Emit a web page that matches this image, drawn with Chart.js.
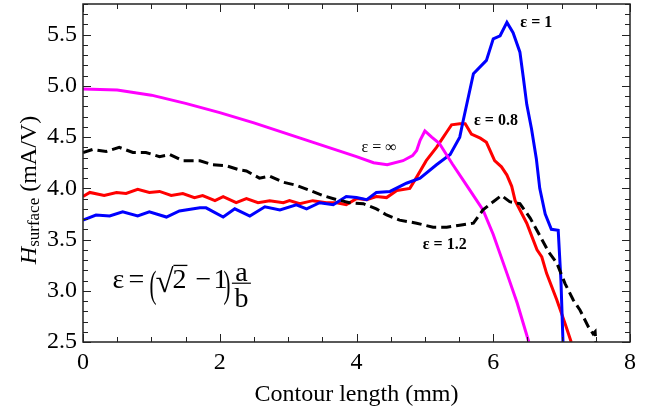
<!DOCTYPE html>
<html>
<head>
<meta charset="utf-8">
<script src="https://cdn.jsdelivr.net/npm/chart.js@4.4.1/dist/chart.umd.min.js"></script>
<style>
  html, body { margin: 0; padding: 0; background: #fff; }
  #wrap { width: 646px; height: 410px; }
</style>
</head>
<body>
<div id="wrap"><canvas id="chart" width="646" height="410"></canvas></div>
<script>
// axis ticks
const xTicks = [0, 2, 4, 6, 8];
const yTicks = [2.5, 3.0, 3.5, 4.0, 4.5, 5.0, 5.5];
const xTitle = "Contour length (mm)";

// ε = 1 (blue)
const blueX = [0, 0.19, 0.39, 0.58, 0.80, 0.97, 1.22, 1.41, 1.71, 1.80, 2.05, 2.22, 2.44, 2.66, 2.88, 3.12, 3.27, 3.46, 3.66, 3.85, 4.0, 4.15, 4.29, 4.49, 4.73, 4.93, 5.17, 5.37, 5.51, 5.56, 5.71, 5.90, 6.0, 6.10, 6.20, 6.29, 6.39, 6.44, 6.49, 6.56, 6.63, 6.68, 6.76, 6.85, 6.95, 6.99, 7.02];
const blueY = [3.69, 3.74, 3.73, 3.77, 3.73, 3.77, 3.72, 3.78, 3.81, 3.81, 3.72, 3.80, 3.73, 3.82, 3.79, 3.84, 3.80, 3.86, 3.84, 3.92, 3.91, 3.89, 3.96, 3.97, 4.05, 4.10, 4.23, 4.33, 4.50, 4.66, 5.12, 5.25, 5.46, 5.49, 5.62, 5.52, 5.33, 5.08, 4.82, 4.58, 4.29, 4.00, 3.75, 3.60, 3.59, 3.10, 2.5];

// ε = 0.8 (red)
const redX = [0, 0.10, 0.31, 0.49, 0.63, 0.80, 0.97, 1.12, 1.29, 1.46, 1.63, 1.75, 1.93, 2.05, 2.24, 2.39, 2.56, 2.73, 2.93, 3.02, 3.17, 3.36, 3.56, 3.71, 3.85, 4.0, 4.15, 4.29, 4.44, 4.59, 4.78, 4.88, 5.02, 5.17, 5.27, 5.32, 5.39, 5.51, 5.59, 5.68, 5.81, 5.90, 6.02, 6.12, 6.20, 6.27, 6.32, 6.49, 6.64, 6.71, 6.78, 6.93, 7.05, 7.14];
const redY = [3.92, 3.96, 3.93, 3.96, 3.95, 3.99, 3.96, 3.97, 3.93, 3.95, 3.91, 3.93, 3.88, 3.92, 3.86, 3.90, 3.86, 3.88, 3.86, 3.88, 3.85, 3.88, 3.86, 3.86, 3.84, 3.90, 3.89, 3.92, 3.91, 3.98, 4.00, 4.11, 4.27, 4.40, 4.50, 4.55, 4.62, 4.63, 4.63, 4.53, 4.49, 4.45, 4.27, 4.21, 4.13, 4.02, 3.88, 3.66, 3.40, 3.33, 3.17, 2.91, 2.68, 2.5];

// ε = 1.2 (black dashed)
const blackX = [0, 0.14, 0.34, 0.53, 0.73, 0.92, 1.12, 1.27, 1.46, 1.71, 1.90, 2.10, 2.29, 2.39, 2.58, 2.73, 2.93, 3.12, 3.32, 3.51, 3.71, 3.90, 4.10, 4.29, 4.44, 4.63, 4.88, 5.12, 5.32, 5.51, 5.71, 5.85, 6.0, 6.12, 6.24, 6.39, 6.54, 6.68, 6.81, 6.93, 7.05, 7.17, 7.27, 7.39, 7.46, 7.49, 7.50];
const blackY = [4.35, 4.38, 4.36, 4.40, 4.35, 4.35, 4.31, 4.33, 4.27, 4.27, 4.23, 4.22, 4.18, 4.17, 4.10, 4.12, 4.06, 4.03, 3.98, 3.93, 3.89, 3.86, 3.85, 3.80, 3.74, 3.69, 3.66, 3.62, 3.62, 3.64, 3.66, 3.79, 3.87, 3.93, 3.87, 3.85, 3.71, 3.54, 3.38, 3.27, 3.07, 2.91, 2.81, 2.65, 2.58, 2.60, 2.5];

// ε = ∞ (magenta)
const magentaX = [0, 0.5, 1.0, 1.5, 2.0, 2.5, 3.0, 3.5, 4.0, 4.25, 4.45, 4.68, 4.82, 4.88, 4.93, 5.0, 5.1, 5.21, 5.4, 5.66, 5.85, 6.0, 6.2, 6.35, 6.52];
const magentaY = [4.97, 4.96, 4.91, 4.83, 4.74, 4.64, 4.53, 4.42, 4.31, 4.25, 4.23, 4.27, 4.32, 4.37, 4.47, 4.56, 4.50, 4.44, 4.24, 3.98, 3.79, 3.55, 3.17, 2.88, 2.5];

// curve labels, anchored in data units
const curveLabels = [
    { text: "ε = 1", x: 6.63, y: 5.62, bold: true },
    { text: "ε = 0.8", x: 6.04, y: 4.66, bold: true },
    { text: "ε = ∞", x: 4.33, y: 4.40, bold: false },
    { text: "ε = 1.2", x: 5.29, y: 3.45, bold: true }
];

const SERIF = '"Liberation Serif", "Times New Roman", serif';
const pts = (xs, ys) => xs.map((x, i) => ({ x, y: ys[i] }));

const framePlugin = {
    id: "frame",
    afterDraw(chart) {
        const { ctx, chartArea: a, scales } = chart;
        const sx = scales.x, sy = scales.y;
        ctx.save();

        // frame
        ctx.strokeStyle = "#222";
        ctx.lineWidth = 1.5;
        ctx.strokeRect(a.left, a.top, a.right - a.left, a.bottom - a.top);

        // inward ticks on all sides
        ctx.lineWidth = 1;
        ctx.beginPath();
        for (let i = 0; i <= 16; i++) {
            const px = Math.round(sx.getPixelForValue(i * 0.5)) + 0.5;
            const len = i % 4 === 0 ? 8 : 5;
            ctx.moveTo(px, a.bottom); ctx.lineTo(px, a.bottom - len);
            ctx.moveTo(px, a.top); ctx.lineTo(px, a.top + len);
        }
        for (let i = 0; i <= 33; i++) {
            const py = Math.round(sy.getPixelForValue(2.5 + i * 0.1)) + 0.5;
            const len = i % 5 === 0 ? 8 : 5;
            ctx.moveTo(a.left, py); ctx.lineTo(a.left + len, py);
            ctx.moveTo(a.right, py); ctx.lineTo(a.right - len, py);
        }
        ctx.stroke();

        // curve labels
        ctx.fillStyle = "#000";
        ctx.textAlign = "center";
        ctx.textBaseline = "middle";
        curveLabels.forEach((l) => {
            ctx.font = (l.bold ? "bold " : "") + "16px " + SERIF;
            ctx.fillText(l.text, sx.getPixelForValue(l.x), sy.getPixelForValue(l.y));
        });

        // y axis title: H_surface (mA/V)
        ctx.save();
        ctx.translate(36, 190);
        ctx.rotate(-Math.PI / 2);
        ctx.textAlign = "left";
        ctx.textBaseline = "alphabetic";
        const fMain = "24px " + SERIF, fItal = "italic 24px " + SERIF, fSub = "17px " + SERIF;
        ctx.font = fItal; const wH = ctx.measureText("H").width;
        ctx.font = fSub; const wS = ctx.measureText("surface").width;
        ctx.font = fMain; const wU = ctx.measureText(" (mA/V)").width;
        let tx = -(wH + wS + wU) / 2;
        ctx.font = fItal; ctx.fillText("H", tx, 0); tx += wH;
        ctx.font = fSub; ctx.fillText("surface", tx, 3); tx += wS;
        ctx.font = fMain; ctx.fillText(" (mA/V)", tx, 0);
        ctx.restore();

        // formula ε = (√2 − 1) a/b
        const x0 = sx.getPixelForValue(0.43), y0 = sy.getPixelForValue(3.03);
        ctx.textAlign = "left";
        ctx.textBaseline = "alphabetic";
        ctx.font = "28px " + SERIF;
        ctx.fillText("ε", x0, y0);
        ctx.fillText("=", x0 + 16, y0);
        const paren = (ch, px) => {
            ctx.save();
            ctx.translate(px, y0 + 9);
            ctx.scale(0.8, 1.45);
            ctx.font = "26px " + SERIF;
            ctx.fillText(ch, 0, 0);
            ctx.restore();
        };
        paren("(", x0 + 37);
        ctx.font = "33px " + SERIF;
        const rx = x0 + 43;
        ctx.fillText("√", rx, y0 + 4);
        const rm = ctx.measureText("√");
        const rTop = y0 + 4 - rm.actualBoundingBoxAscent;
        const rRight = rx + rm.actualBoundingBoxRight;
        ctx.font = "28px " + SERIF;
        ctx.fillText("2", x0 + 60, y0);
        ctx.beginPath();
        ctx.lineWidth = 1.3;
        ctx.strokeStyle = "#000";
        ctx.moveTo(rRight - 1, rTop + 0.7);
        ctx.lineTo(x0 + 75, rTop + 0.7);
        ctx.stroke();
        ctx.fillText("\u2212", x0 + 83, y0);
        ctx.fillText("1", x0 + 101, y0);
        paren(")", x0 + 111);
        ctx.textAlign = "center";
        const fx = x0 + 129;
        ctx.fillText("a", fx, y0 - 7);
        ctx.fillText("b", fx, y0 + 19);
        ctx.beginPath();
        ctx.lineWidth = 1.2;
        ctx.moveTo(fx - 9.5, y0 - 4.5);
        ctx.lineTo(fx + 9.5, y0 - 4.5);
        ctx.stroke();

        ctx.restore();
    }
};

const line = (xs, ys, color, dash) => ({
    data: pts(xs, ys),
    borderColor: color,
    borderWidth: 3,
    borderDash: dash || [],
    pointRadius: 0,
    fill: false,
    tension: 0,
    clip: 0
});

new Chart(document.getElementById("chart"), {
    type: "line",
    data: {
        datasets: [
            line(blackX, blackY, "#000000", [10, 5]),
            line(magentaX, magentaY, "#ff00ff"),
            line(blueX, blueY, "#0000ff"),
            line(redX, redY, "#ff0000")
        ]
    },
    options: {
        responsive: false,
        animation: false,
        devicePixelRatio: 1,
        layout: { padding: { left: 0, right: 16, top: 4, bottom: 0 } },
        plugins: { legend: { display: false }, tooltip: { enabled: false } },
        scales: {
            x: {
                type: "linear",
                min: 0,
                max: 8,
                afterBuildTicks: (s) => { s.ticks = xTicks.map((v) => ({ value: v })); },
                afterFit: (s) => { s.height = 68; s.paddingLeft = 0; s.paddingRight = 0; },
                ticks: { color: "#000", font: { family: SERIF, size: 24 }, padding: 6, maxRotation: 0, autoSkip: false, callback: (v) => String(v) },
                grid: { display: false, drawTicks: false },
                border: { display: false },
                title: { display: true, text: xTitle, color: "#000", font: { family: SERIF, size: 24 }, padding: { top: 0, bottom: 1 } }
            },
            y: {
                type: "linear",
                min: 2.5,
                max: 5.8,
                afterBuildTicks: (s) => { s.ticks = yTicks.map((v) => ({ value: v })); },
                afterFit: (s) => { s.width = 83; s.paddingTop = 0; s.paddingBottom = 0; },
                ticks: { color: "#000", font: { family: SERIF, size: 24 }, padding: 6, autoSkip: false, callback: (v) => Number(v).toFixed(1) },
                grid: { display: false, drawTicks: false },
                border: { display: false }
            }
        }
    },
    plugins: [framePlugin]
});
</script>
</body>
</html>
